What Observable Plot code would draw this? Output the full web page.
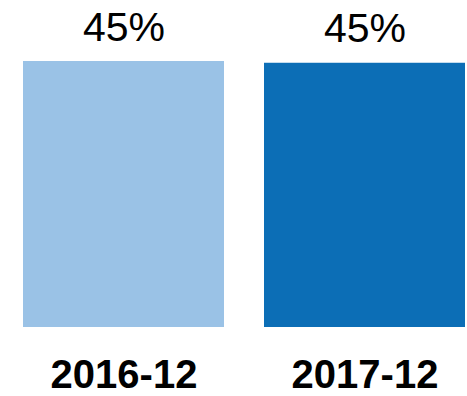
<!DOCTYPE html>
<html>
<head>
<meta charset="utf-8">
<script src="https://cdn.jsdelivr.net/npm/d3@7"></script>
<script src="https://cdn.jsdelivr.net/npm/@observablehq/plot@0.6"></script>
<style>
  html, body { margin: 0; padding: 0; background: #fff; }
  svg { display: block; }
</style>
</head>
<body>
<div id="chart"></div>
<script>
const categories = ["2016-12", "2017-12"];
const values = [45.3, 45.0];
const labels = ["45%", "45%"];
const colors = ["#9AC2E6", "#0C6EB6"];

const data = categories.map((c, i) => ({ cat: c, value: values[i], label: labels[i], color: colors[i] }));

const chart = Plot.plot({
  width: 467,
  height: 396,
  marginTop: 0,
  marginBottom: 69,
  marginLeft: 22,
  marginRight: 1,
  style: { fontFamily: "'Liberation Sans', Arial, sans-serif", background: "#fff" },
  x: { domain: categories, paddingInner: 0.165, paddingOuter: 0, label: null },
  y: { domain: [0, 45.3], range: [327, 61], axis: null },
  marks: [
    Plot.barY(data, { x: "cat", y: "value", fill: "color" }),
    Plot.text(data, { x: "cat", y: "value", text: "label", dy: -21, lineAnchor: "bottom", fontSize: 41, fill: "#000" }),
    Plot.axisX({ tickSize: 0, tickPadding: 32, fontSize: 40, fontWeight: "bold", label: null, color: "#000" })
  ]
});
document.getElementById("chart").append(chart);
</script>
</body>
</html>
